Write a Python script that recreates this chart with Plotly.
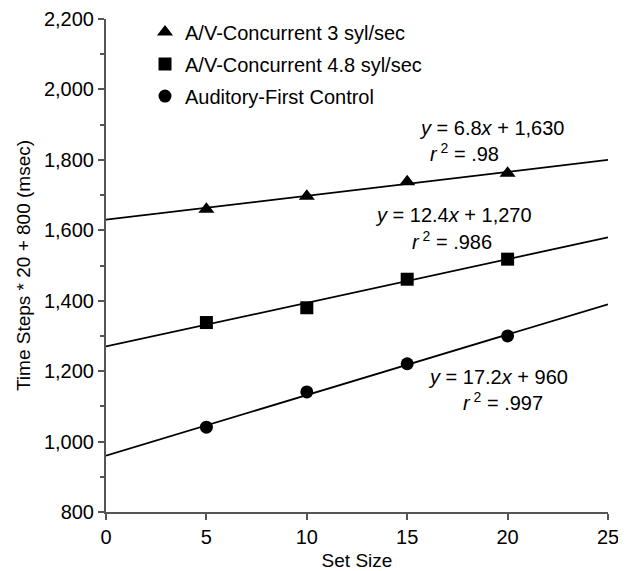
import plotly.graph_objects as go

set_size = [5, 10, 15, 20]
names = ["A/V-Concurrent 3 syl/sec", "A/V-Concurrent 4.8 syl/sec", "Auditory-First Control"]
values = [
    [1660, 1697, 1738, 1762],
    [1338, 1380, 1461, 1518],
    [1041, 1141, 1221, 1300],
]
slopes = [6.8, 12.4, 17.2]
intercepts = [1630, 1270, 960]
r2 = [".98", ".986", ".997"]
symbols = ["triangle-up", "square", "circle"]
line_x = [0, 25]

# annotation anchor positions (data coords): eq x, eq y, r2 x, r2 y
eq_pos = [(19.2, 1891, 17.85, 1820), (17.33, 1643, 17.23, 1570), (19.5, 1183, 19.75, 1115)]

FONT = "Liberation Sans, Arial, Helvetica, sans-serif"
TXT = 20
fig = go.Figure()
for i in range(3):
    fig.add_trace(go.Scatter(
        x=line_x, y=[slopes[i] * xx + intercepts[i] for xx in line_x],
        mode="lines", line=dict(color="black", width=1.8),
        showlegend=False, hoverinfo="skip"))
for i in range(3):
    fig.add_trace(go.Scatter(
        x=set_size, y=values[i], mode="markers", name=names[i],
        legendgroup=str(i),
        marker=dict(symbol=symbols[i], size=[14, 13, 13][i], color="black")))
    ex, ey, rx, ry = eq_pos[i]
    fig.add_annotation(x=ex, y=ey, text=f"<i>y</i> = {slopes[i]}<i>x</i> + {intercepts[i]:,}",
                       showarrow=False, font=dict(size=TXT, color="black", family=FONT))
    fig.add_annotation(x=rx, y=ry, text=f"<i>r</i><sup> 2</sup> = {r2[i]}",
                       showarrow=False, font=dict(size=TXT, color="black", family=FONT))

axis_common = dict(showline=True, linecolor="#555", linewidth=2, ticks="outside",
                   tickcolor="#555", tickwidth=2, ticklen=6, showgrid=False, zeroline=False,
                   automargin=False,
                   tickfont=dict(size=20, color="black", family=FONT), ticklabeloverflow="allow")
fig.update_xaxes(range=[0, 25], dtick=5,
                 title=dict(text="Set Size", font=dict(size=19, color="black", family=FONT), standoff=7),
                 **axis_common)
fig.update_yaxes(range=[800, 2200], dtick=200, tickformat=",",
                 minor=dict(ticks="outside", dtick=100, ticklen=4, tickcolor="#555", tickwidth=2),
                 title=dict(text="Time Steps * 20 + 800 (msec)", font=dict(size=19, color="black", family=FONT), standoff=8),
                 **axis_common)
# page body has an 8px default margin, so the figure is sized/positioned to compensate
fig.update_layout(
    width=618, height=563, margin=dict(l=98, r=18, t=11, b=59, autoexpand=False),
    plot_bgcolor="white", paper_bgcolor="white",
    font=dict(family=FONT, color="black", size=TXT),
    legend=dict(x=0.0777, y=1.013, xanchor="left", yanchor="top", bgcolor="rgba(0,0,0,0)",
                font=dict(size=TXT, color="black", family=FONT), tracegroupgap=3, itemwidth=30),
)
fig.write_html("out.html")
